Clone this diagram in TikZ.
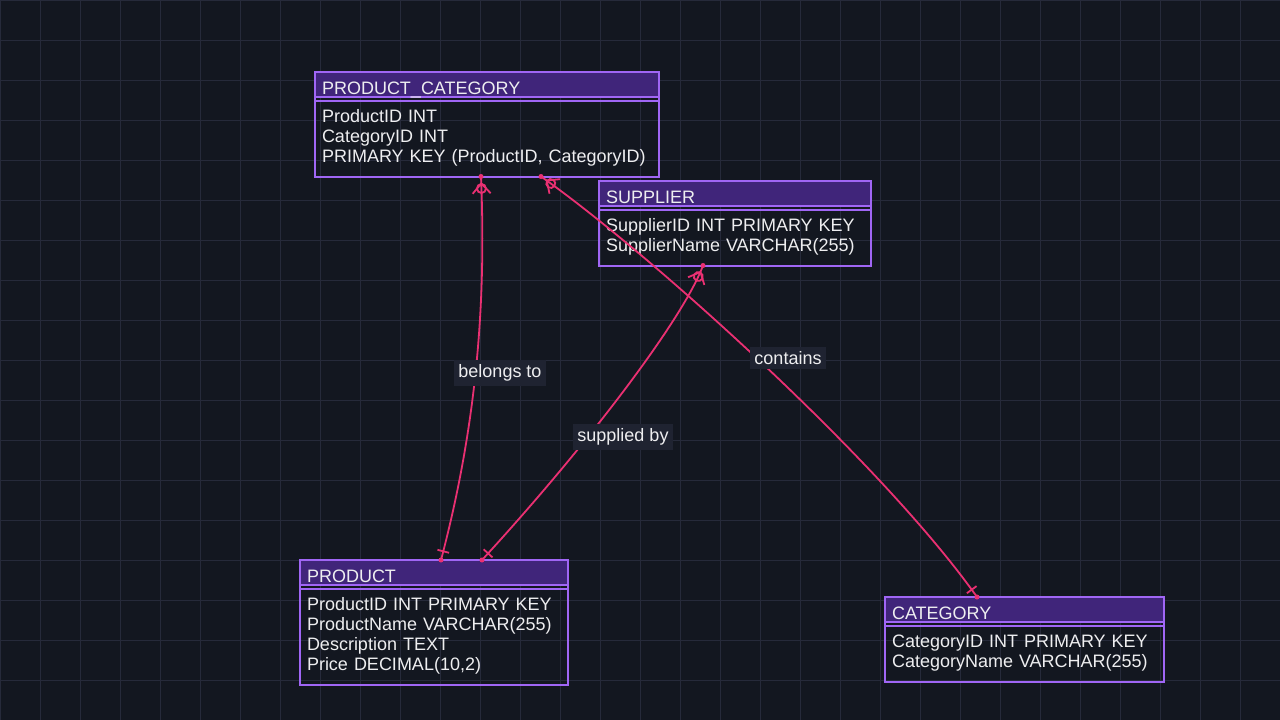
\documentclass[tikz,border=0pt]{standalone}
\usepackage{fontspec}
\setmainfont{Liberation Sans}
\usepackage{xcolor}
\usetikzlibrary{positioning,decorations.markings}

\definecolor{canvas}{HTML}{131720}
\definecolor{gridc}{HTML}{262A3A}
\definecolor{entborder}{HTML}{A066F5}
\definecolor{enthead}{HTML}{40257A}
\definecolor{enttext}{HTML}{EEEEF0}
\definecolor{relc}{HTML}{EA3072}
\definecolor{lblbg}{HTML}{1F2331}

\tikzset{
    gridline/.style={draw=gridc, line width=1pt},
    enthdr/.style={draw=entborder, fill=enthead, line width=2pt, text=enttext,
        inner xsep=7pt, inner ysep=0pt, outer sep=0pt,
        text height=22pt, text depth=3pt, align=left},
    entbody/.style={draw=entborder, line width=2pt, text=enttext,
        inner xsep=7pt, inner ysep=0pt, outer sep=0pt,
        text height=21pt, align=left},
    entbox/.style={draw=entborder, line width=2pt},
    zeromany/.style={postaction={decorate, decoration={markings,
        mark=at position 12pt with {
            \draw[relc, line width=1.8pt] (0pt,0pt) circle (4.5pt);
            \draw[relc, line width=1.8pt] (5pt,9pt) -- (-5pt,0pt) -- (5pt,-9pt);}}}},
    onemark/.style={postaction={decorate, decoration={markings,
        mark=at position -9pt with {
            \draw[relc, line width=1.8pt] (0pt,-6pt) -- (0pt,6pt);}}}},
    rel/.style={draw=relc, line width=1.8pt, zeromany, onemark},
    lbl/.style={fill=lblbg, text=enttext, inner xsep=4.5pt, inner ysep=4.5pt}
}

\begin{document}
\begin{tikzpicture}[x=1pt, y=-1pt, font=\fontsize{18pt}{20pt}\selectfont]
    % background and grid
    \fill[canvas] (0,0) rectangle (1280,720);
    \useasboundingbox (0,0) rectangle (1280,720);
    \foreach \x in {0,40,...,1280}
        \draw[gridline] (\x,0) -- (\x,720);
    \foreach \y in {0,40,...,720}
        \draw[gridline] (0,\y) -- (1280,\y);

    % entities
    \node[enthdr, text width=330pt, anchor=north west] (pch) at (315,72) {PRODUCT\_CATEGORY};
    \node[entbody, text width=330pt, text depth=54.5pt, below=4pt of pch] (pcb)
        {ProductID INT\\CategoryID INT\\PRIMARY KEY (ProductID, CategoryID)};
    \draw[entbox] (pch.north west) rectangle (pcb.south east);

    \node[enthdr, text width=258pt, anchor=north west] (suph) at (599,181) {SUPPLIER};
    \node[entbody, text width=258pt, text depth=34.5pt, below=4pt of suph] (supb)
        {SupplierID INT PRIMARY KEY\\SupplierName VARCHAR(255)};
    \draw[entbox] (suph.north west) rectangle (supb.south east);

    \node[enthdr, text width=254pt, anchor=north west] (prh) at (300,560) {PRODUCT};
    \node[entbody, text width=254pt, text depth=74.5pt, below=4pt of prh] (prb)
        {ProductID INT PRIMARY KEY\\ProductName VARCHAR(255)\\Description TEXT\\Price DECIMAL(10,2)};
    \draw[entbox] (prh.north west) rectangle (prb.south east);

    \node[enthdr, text width=265pt, anchor=north west] (cath) at (885,597) {CATEGORY};
    \node[entbody, text width=265pt, text depth=34.5pt, below=4pt of cath] (catb)
        {CategoryID INT PRIMARY KEY\\CategoryName VARCHAR(255)};
    \draw[entbox] (cath.north west) rectangle (catb.south east);

    % connector ends
    \coordinate (pcl) at ([xshift=166pt]pcb.south west);
    \coordinate (pcr) at ([xshift=226pt]pcb.south west);
    \coordinate (sup) at ([xshift=104pt]supb.south west);
    \coordinate (prl) at ([xshift=141pt]prh.north west);
    \coordinate (prr) at ([xshift=182pt]prh.north west);
    \coordinate (cat) at ([xshift=92pt]cath.north west);

    % relations
    \draw[rel] (pcl) .. controls +(5,120) and +(37,-140) .. (prl);
    \draw[rel] (pcr) .. controls +(104,73) and +(-97,-137) .. (cat);
    \draw[rel] (sup) .. controls +(-20,54) and +(103,-112) .. (prr);
    \fill[relc] (pcl) circle (2.5pt);
    \fill[relc] (pcr) circle (2.5pt);
    \fill[relc] (sup) circle (2.5pt);
    \fill[relc] (prl) circle (2.5pt);
    \fill[relc] (prr) circle (2.5pt);
    \fill[relc] (cat) circle (2.5pt);

    % labels
    \node[lbl] (belongs) at (500,373) {belongs to};
    \node[lbl] (contains) at (788,358) {contains};
    \node[lbl] (supplied) at (623,437) {supplied by};
\end{tikzpicture}
\end{document}
